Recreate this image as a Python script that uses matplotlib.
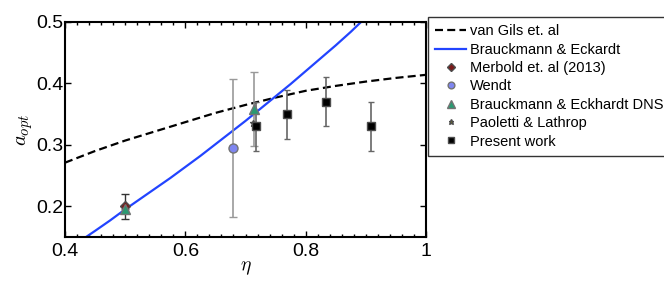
import matplotlib
matplotlib.use('Agg')
import matplotlib.pyplot as plt

plt.rcParams['font.family'] = ['Liberation Sans', 'DejaVu Sans']
plt.rcParams['mathtext.fontset'] = 'cm'

# curves
vg_eta = [0.40, 0.45, 0.50, 0.55, 0.60, 0.65, 0.70, 0.75, 0.80, 0.85, 0.90, 0.95, 1.00]
vg_a = [0.271, 0.290, 0.307, 0.322, 0.337, 0.352, 0.365, 0.377, 0.388, 0.396, 0.403, 0.409, 0.414]

be_eta = [0.435, 0.45, 0.475, 0.50, 0.525, 0.55, 0.575, 0.60, 0.625, 0.65, 0.675,
          0.70, 0.725, 0.75, 0.775, 0.80, 0.825, 0.85, 0.875, 0.892]
be_a = [0.150, 0.160, 0.177, 0.195, 0.212, 0.229, 0.246, 0.264, 0.282, 0.301, 0.320,
        0.339, 0.359, 0.379, 0.399, 0.420, 0.441, 0.462, 0.484, 0.500]

# data points
merbold_eta = [0.5]
merbold_a = [0.2]
merbold_err = [0.02]

wendt_eta = [0.68]
wendt_a = [0.295]
wendt_err = [0.113]

dns_eta = [0.5, 0.714]
dns_a = [0.195, 0.358]
dns_err = [0.0, 0.06]

pl_eta = [0.712]
pl_a = [0.336]

pw_eta = [0.717, 0.769, 0.833, 0.909]
pw_a = [0.33, 0.35, 0.37, 0.33]
pw_err = [0.04, 0.04, 0.04, 0.04]

fig = plt.figure(figsize=(6.64, 2.83), dpi=100)
ax = fig.add_axes([65 / 664, 1 - 237 / 283, 361 / 664, 215 / 283])

ax.plot(vg_eta, vg_a, '--', color='black', lw=1.6, dashes=(3.6, 1.9), label='van Gils et. al')
ax.plot(be_eta, be_a, '-', color='#2244ff', lw=1.6, label='Brauckmann & Eckardt')

ax.errorbar(wendt_eta, wendt_a, yerr=wendt_err, fmt='none', ecolor='0.6', elinewidth=1.2, capsize=3)
ax.errorbar(dns_eta, dns_a, yerr=dns_err, fmt='none', ecolor='0.6', elinewidth=1.2, capsize=3)
ax.errorbar(merbold_eta, merbold_a, yerr=merbold_err, fmt='none', ecolor='0.2', elinewidth=1.0, capsize=3)
ax.errorbar(pw_eta, pw_a, yerr=pw_err, fmt='none', ecolor='0.4', elinewidth=1.2, capsize=2)

ax.plot(merbold_eta, merbold_a, 'D', color='#7a1a1a', mec='0.3', ms=5, ls='none', label='Merbold et. al (2013)')
ax.plot(wendt_eta, wendt_a, 'o', color='#7f86f0', mec='0.45', ms=6.5, ls='none', label='Wendt')
ax.plot(dns_eta, dns_a, '^', color='#2a9a72', mec='0.45', ms=7, ls='none', label='Brauckmann & Eckhardt DNS')
ax.plot(pl_eta, pl_a, '*', color='#6b6a25', mec='0.3', ms=5, ls='none', label='Paoletti & Lathrop')
ax.plot(pw_eta, pw_a, 's', color='black', mec='0.3', ms=6, ls='none', label='Present work')

ax.set_xlim(0.4, 1.0)
ax.set_ylim(0.15, 0.5)
ax.set_xticks([0.4, 0.6, 0.8, 1.0])
ax.set_xticklabels(['0.4', '0.6', '0.8', '1'])
ax.set_yticks([0.2, 0.3, 0.4, 0.5])
ax.set_xticks([0.4 + 0.02 * i for i in range(31)], minor=True)
ax.tick_params(which='both', direction='in', top=True, right=True, labelsize=14, width=1)
ax.tick_params(which='major', length=4)
ax.tick_params(axis='x', which='major', pad=4)
ax.tick_params(axis='y', which='major', pad=1)
ax.tick_params(which='minor', length=2)
ax.tick_params(axis='y', which='minor', left=False, right=False)
for s in ax.spines.values():
    s.set_linewidth(1.5)

ax.set_xlabel(r'$\eta$', fontsize=14, labelpad=0)
ax.set_ylabel(r'$a_{opt}$', fontsize=15, labelpad=1)

# legend sits outside the axes and runs off the right edge, like the original
leg = fig.legend(loc='upper left', bbox_to_anchor=(428 / 664, 1 - 17 / 283),
                 fontsize=10.5, frameon=True, fancybox=False, edgecolor='black',
                 borderaxespad=0, handlelength=2.1, handletextpad=0.25,
                 labelspacing=0.3, borderpad=0.5, markerscale=0.75)
leg.get_frame().set_linewidth(1.0)

fig.savefig('out.png', dpi=100)
